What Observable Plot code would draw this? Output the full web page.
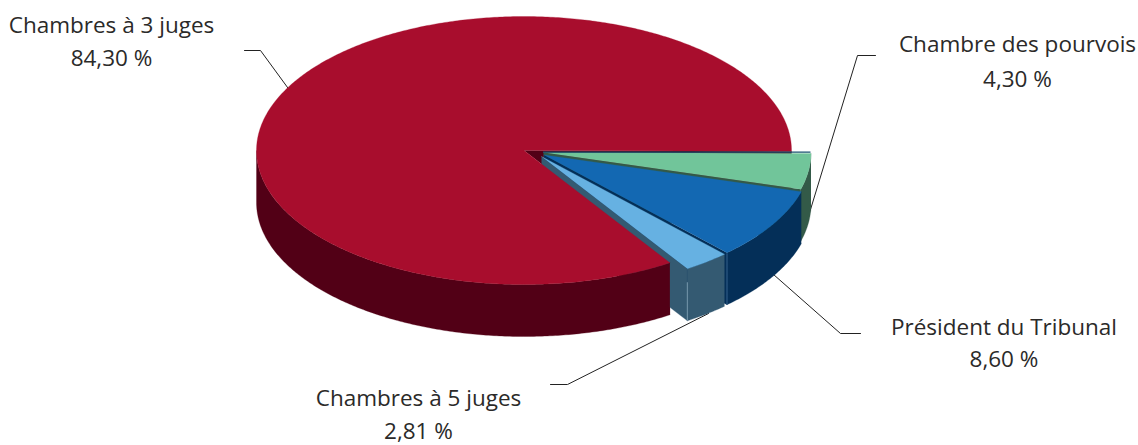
<!DOCTYPE html>
<html>
<head>
<meta charset="utf-8">
<script src="https://cdn.jsdelivr.net/npm/d3@7"></script>
<script src="https://cdn.jsdelivr.net/npm/@observablehq/plot@0.6"></script>
<style>
html,body{margin:0;padding:0;background:#fff}
svg{display:block}
</style>
</head>
<body>
<div id="chart"></div>
<script>
// Data, clockwise from the east
const categories = ["Chambre des pourvois", "Président du Tribunal", "Chambres à 5 juges", "Chambres à 3 juges"];
const shares = [4.30, 8.60, 2.81, 84.30];
const shareLabels = ["4,30 %", "8,60 %", "2,81 %", "84,30 %"];

// Styles
const topColors = ["#71c59a", "#1368b2", "#66b1e2", "#a80d2d"];
const wallColors = ["#335a48", "#042f58", "#345a72", "#520016"];

// Pie projection
const W = 1138, H = 445;
const center = [523.5, 150], radii = [267.5, 134], depth = 52;
const rotation = 0.007;
const explode = [[19.5, 2], [20, 4.5], [17.5, 6], [0, 0]];

// Label and leader layout
const labelAnchors = [[1017, 44.3, 79.3], [1003.5, 327.3, 359.3], [418, 398.3, 431], [111, 25.3, 58.3]];
const leaders = [
  [[875, 55], [857, 55], [803, 232]],
  [[860, 333], [840, 333], [773, 274]],
  [[550, 384], [567, 384], [708, 313]],
  [[244, 50], [260, 50], [290, 91]]
];

const arcs = d3.pie().sort(null).value(d => d).startAngle(rotation).endAngle(2 * Math.PI + rotation)(shares);
const rim = (i, a, drop = 0) => [
  center[0] + explode[i][0] + radii[0] * Math.cos(a),
  center[1] + explode[i][1] + radii[1] * Math.sin(a) + drop
];
const apex = (i, drop = 0) => [center[0] + explode[i][0], center[1] + explode[i][1] + drop];
const sweep = (a0, a1) => {
  const n = Math.max(2, Math.ceil(Math.abs(a1 - a0) / 0.01));
  return d3.range(n + 1).map(k => a0 + (a1 - a0) * k / n);
};

const polys = [];
const add = (pts, color) => {
  const z = polys.length ? polys[polys.length - 1].z + 1 : 0;
  pts.forEach(p => polys.push({x: p[0], y: p[1], z, color}));
};
const topFace = i => add([apex(i), ...sweep(arcs[i].startAngle, arcs[i].endAngle).map(a => rim(i, a))], topColors[i]);
const outerWall = (i, a0, a1) => {
  const s = sweep(a0, a1);
  add([...s.map(a => rim(i, a)), ...s.slice().reverse().map(a => rim(i, a, depth))], wallColors[i]);
};
const cutWall = (i, a) => add([apex(i), rim(i, a), rim(i, a, depth), apex(i, depth)], wallColors[i]);

const red = 3, redStart = arcs[red].startAngle, redEnd = arcs[red].endAngle;
// Red slice: inside of the cut seen through the gap
add([apex(red), rim(red, redEnd), rim(red, redEnd, depth), apex(red, depth), rim(red, redStart, depth), rim(red, redStart)], wallColors[red]);
// Cut faces of the pulled-out slices
[0, 1, 2].forEach(i => cutWall(i, arcs[i].endAngle));
// Red slice
outerWall(red, redStart, Math.PI);
topFace(red);
// Pulled-out slices
[0, 1, 2].forEach(i => {
  outerWall(i, arcs[i].startAngle, arcs[i].endAngle);
  topFace(i);
});

const leaderRows = leaders.flatMap((l, i) => l.map(p => ({x: p[0], y: p[1], i})));
const textRows = categories.flatMap((c, i) => [
  {x: labelAnchors[i][0], y: labelAnchors[i][1], t: c},
  {x: labelAnchors[i][0], y: labelAnchors[i][2], t: shareLabels[i]}
]);
const chart = Plot.plot({
  width: W, height: H,
  margin: 0,
  x: {domain: [0, W], range: [0, W], axis: null},
  y: {domain: [0, H], range: [0, H], axis: null},
  color: {type: "identity"},
  marks: [
    Plot.line(leaderRows, {x: "x", y: "y", z: "i", stroke: "#222", strokeWidth: 1}),
    Plot.line(polys, {x: "x", y: "y", z: "z", fill: "color", stroke: "color", strokeWidth: 0.3, curve: "linear"}),
    // Pale highlights on the wall corners
    Plot.ruleX([rim(1, arcs[1].endAngle, 0)], {x: d => d[0], y1: d => d[1] + 1, y2: d => d[1] + depth, stroke: "#2e5a85", strokeWidth: 1.2}),
    Plot.ruleX([rim(2, arcs[2].endAngle, 0)], {x: d => d[0], y1: d => d[1] + 14, y2: d => d[1] + depth, stroke: "#6d8ea3", strokeWidth: 1.2}),
    // Dark edge along the top of the green slice
    Plot.ruleY([apex(0)], {x1: d => d[0], x2: () => rim(0, 0)[0], y: d => d[1] - 0.3, stroke: "#17506e", strokeWidth: 1.2}),
    Plot.text(textRows, {x: "x", y: "y", text: "t", fontFamily: "'Open Sans', sans-serif", fontSize: 22.5, fill: "#2b2a29", textAnchor: "middle"})
  ]
});
document.getElementById("chart").appendChild(chart);
</script>
</body>
</html>
